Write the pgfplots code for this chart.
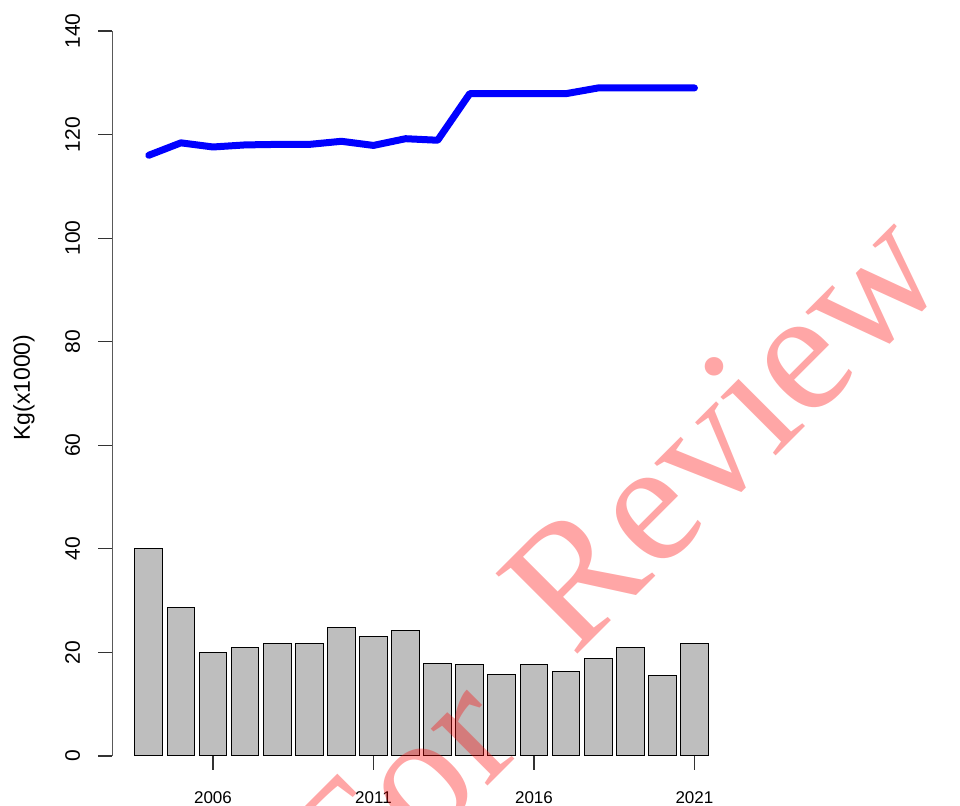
\documentclass[border=0pt]{standalone}
\usepackage{fontspec}
\setmainfont{Liberation Sans}
\newfontfamily\wmfont{Liberation Serif}
\usepackage{pgfplots}
\pgfplotsset{compat=1.18}
\definecolor{bargray}{RGB}{190,190,190}
\begin{document}
\begin{tikzpicture}
\begin{axis}[
  scale only axis,
  width=299pt, height=362.5pt,
  at={(0pt,0pt)}, anchor=south west,
  xmin=2002.869, xmax=2021.5,
  ymin=0, ymax=140,
  axis x line*=bottom, axis y line*=left,
  x axis line style={draw=none},
  y axis line style={-, black!65, line width=0.5pt},
  tick align=outside,
  major tick length=7pt,
  xtick={2006,2011,2016,2021},
  ytick={0,20,40,60,80,100,120,140},
  tick style={black!80, line width=0.55pt},
  /pgf/number format/1000 sep={},
  /pgf/number format/assume math mode=true,
  xticklabel shift=10.75pt,
  yticklabel shift=9pt,
  xticklabel style={anchor=north, inner sep=0pt, font=\fontsize{8.5}{10}\selectfont},
  yticklabel style={rotate=90, anchor=south, inner sep=0pt, font=\fontsize{10.5}{12}\selectfont},
  ylabel={Kg(x1000)},
  ylabel style={at={(axis description cs:-0.148,0.508)}, anchor=center, rotate=0, font=\fontsize{11.5}{13}\selectfont},
  clip=false,
]
\addplot[ybar, bar width=0.865, fill=bargray, draw=black, line width=0.5pt] coordinates {
(2004,40.0) (2005,28.7) (2006,20.0) (2007,20.9) (2008,21.8) (2009,21.8)
(2010,24.8) (2011,23.0) (2012,24.3) (2013,17.9) (2014,17.6) (2015,15.8)
(2016,17.6) (2017,16.4) (2018,18.8) (2019,20.9) (2020,15.5) (2021,21.8)
};
\addplot[blue, line width=3.5pt, line join=round, line cap=round, mark=none] coordinates {
(2004,116.0) (2005,118.4) (2006,117.6) (2007,118.0) (2008,118.1) (2009,118.1)
(2010,118.7) (2011,117.9) (2012,119.2) (2013,118.9) (2014,127.9) (2015,127.9)
(2016,127.9) (2017,127.9) (2018,129.0) (2019,129.0) (2020,129.0) (2021,129.0)
};
\end{axis}
\node[overlay, rotate=45, anchor=base west, text=red, text opacity=0.35, inner sep=0pt,
  font=\wmfont\fontsize{87.5}{90}\selectfont] at (230.5pt,48.75pt) {Review};
\node[overlay, rotate=45, anchor=base west, text=red, text opacity=0.35, inner sep=0pt,
  font=\wmfont\fontsize{87.5}{90}\selectfont] at (121.1pt,-81.65pt) {For};
\pgfresetboundingbox
\path[use as bounding box] (-56.25pt,-25pt) rectangle (423.75pt,378pt);
\end{tikzpicture}
\end{document}
